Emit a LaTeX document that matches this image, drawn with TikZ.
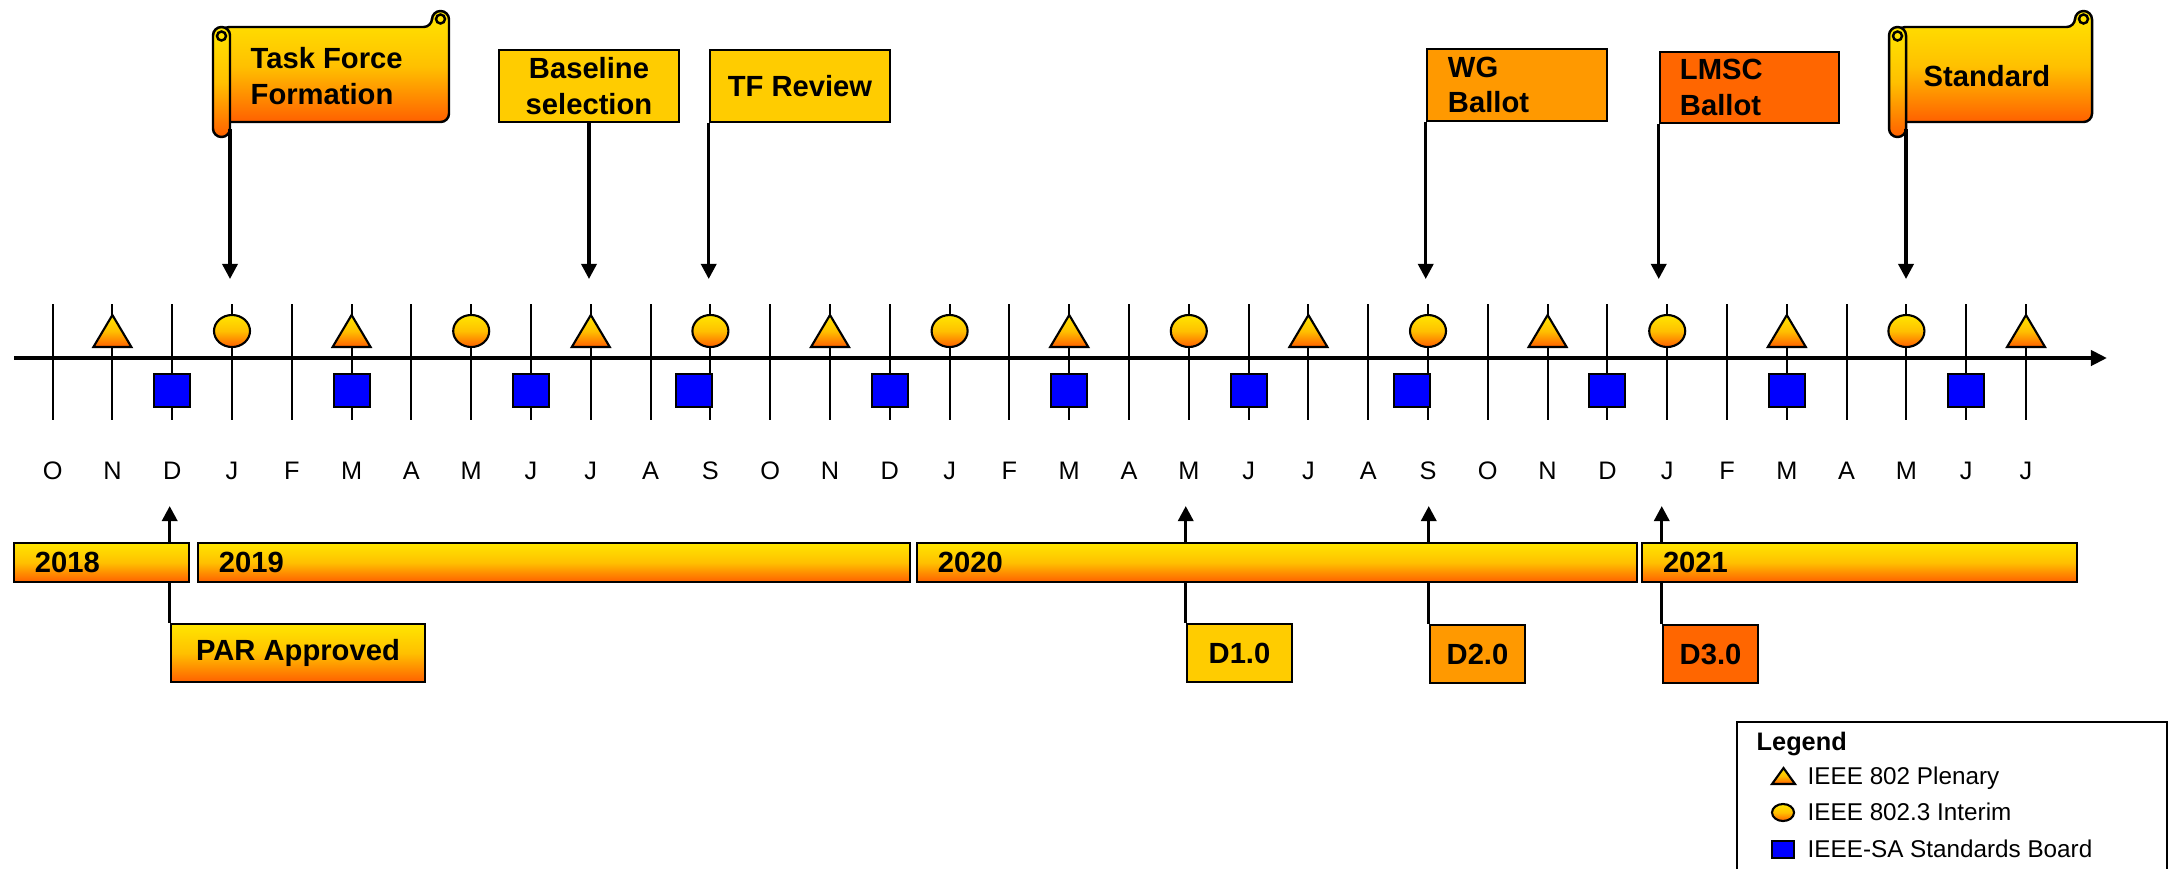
\documentclass[tikz,border=0pt]{standalone}
\usepackage{fontspec}
\setmainfont{Liberation Sans}
\usetikzlibrary{arrows.meta}
\definecolor{flaggold}{RGB}{255,204,0}
\definecolor{flagorange}{RGB}{255,153,0}
\definecolor{flagred}{RGB}{255,102,0}
\definecolor{sabblue}{RGB}{0,0,255}
\definecolor{shadetop}{RGB}{255,230,0}
\definecolor{shademid}{RGB}{255,192,0}
\definecolor{shadebot}{RGB}{255,96,0}

\begin{document}
\begin{tikzpicture}[x=0.01cm, y=-0.01cm,
    >={Triangle[length=4.3pt,width=4.3pt]},
    grad/.style={top color=shadetop, bottom color=shadebot, middle color=shademid},
    lab/.style={font=\fontsize{8.3}{10}\selectfont\bfseries},
    flagbox/.style={draw, line width=0.7pt, inner sep=0pt, lab, minimum height=0.72cm},
    yearbar/.style={draw, line width=0.55pt, grad, lab, minimum height=0.39cm,
        inner xsep=0.21cm, inner ysep=0pt, anchor=west, align=left},
    pole/.style={line width=0.95pt, ->},
    tickline/.style={line width=0.55pt},
    axisline/.style={line width=1.15pt, -{Triangle[length=4.6pt,width=4.3pt]}},
    meet/.style={draw, line width=0.6pt, grad},
    board/.style={draw, line width=0.6pt, fill=sabblue},
    month/.style={font=\fontsize{7.2}{8}\selectfont, anchor=base, inner sep=0pt},
    legtext/.style={font=\fontsize{6.9}{8}\selectfont, anchor=base west, inner sep=0pt}]

    % Rahmen
    \useasboundingbox (0,0) rectangle (2170,869);

    % Monate, Striche
    \foreach \m [count=\i from 0] in {O,N,D,J,F,M,A,M,J,J,A,S,O,N,D,J,F,M,A,M,J,J,A,S,O,N,D,J,F,M,A,M,J,J} {
        \pgfmathsetmacro\x{52.6+59.8*\i}
        \draw[tickline] (\x,304) -- (\x,420);
        \node[month] (mon\i) at (\x,479) {\m};
        \coordinate (hit\i) at (\x,279);
        \coordinate (lo\i) at (\x,506);
    }

    % Zeitachse
    \coordinate (axL) at (14,358);
    \coordinate (axR) at (2107,358);
    \draw[axisline] (axL) -- (axR);

    % Plenary (Dreiecke)
    \foreach \i in {1,5,...,33} {
        \pgfmathsetmacro\x{52.6+59.8*\i}
        \draw[meet] (\x-19,347) -- (\x,315) -- (\x+19,347) -- cycle;
    }
    % Interim (Kreise)
    \foreach \i in {3,7,...,31} {
        \pgfmathsetmacro\x{52.6+59.8*\i}
        \draw[meet] (\x,331) ellipse [x radius=0.18cm, y radius=0.16cm];
    }
    % Standards Board (Quadrate)
    \foreach \i/\dx in {2/0,5/0,8/0,11/-16,14/0,17/0,20/0,23/-16,26/0,29/0,32/0} {
        \pgfmathsetmacro\x{52.6+59.8*\i+\dx}
        \draw[board] (\x-18,374) rectangle (\x+18,407);
    }

    % Schriftrolle: links, rechts, Name
    \def\scrollflag#1#2#3{
        \draw[grad, line width=0.7pt, rounded corners=2.4pt]
            (#1+8,27) -- (#2-17,27) -- (#2-17,11) -- (#2,11) -- (#2,122) -- (#1+8,122) -- cycle;
        \draw[line width=0.7pt] (#2-8.5,19) circle [radius=0.045cm];
        \draw[grad, line width=0.7pt, rounded corners=2.4pt] (#1,27) rectangle (#1+17,137);
        \draw[line width=0.7pt] (#1+8.5,36) circle [radius=0.045cm];
        \coordinate (#3) at (#1+17,129);
    }

    % Meilensteine oben
    \scrollflag{213}{449}{tffpole}
    \node[lab, align=left, anchor=west, inner sep=0pt] (tff) at (250,76) {Task Force\\Formation};
    \node[flagbox, fill=flaggold, minimum width=1.8cm, align=center] (base) at (589,86) {Baseline\\selection};
    \node[flagbox, fill=flaggold, minimum width=1.8cm, align=center] (tfrev) at (800,86) {TF Review};
    \node[flagbox, fill=flagorange, text width=1.38cm, inner xsep=0.21cm, align=left] (wgb) at (1517,85) {WG\\Ballot};
    \node[flagbox, fill=flagred, text width=1.39cm, inner xsep=0.2cm, minimum height=0.71cm, align=left] (lmsc) at (1749.5,87.5) {LMSC\\Ballot};
    \scrollflag{1889}{2092}{stdpole}
    \node[lab, anchor=west, inner sep=0pt] (std) at (1923,76.5) {Standard};

    \draw[pole] (tffpole) -- (tffpole |- hit3);
    \draw[pole] (base.south) -- (base.south |- hit9);
    \draw[pole] (tfrev.south west) -- (tfrev.south west |- hit11);
    \draw[pole] (wgb.south west) -- (wgb.south west |- hit23);
    \draw[pole] (lmsc.south west) -- (lmsc.south west |- hit27);
    \draw[pole] (stdpole) -- (stdpole |- hit31);

    % Meilensteine unten
    \node[flagbox, grad, minimum width=2.54cm, minimum height=0.58cm] (par) at (298,653) {PAR Approved};
    \node[flagbox, fill=flaggold, minimum width=1.05cm, minimum height=0.58cm] (done) at (1239.5,653) {D1.0};
    \node[flagbox, fill=flagorange, minimum width=0.95cm, minimum height=0.58cm] (dtwo) at (1477.5,654) {D2.0};
    \node[flagbox, fill=flagred, minimum width=0.95cm, minimum height=0.58cm] (dthree) at (1710.5,654) {D3.0};

    \draw[pole] (par.north west) -- (par.north west |- lo2);
    \draw[pole] (done.north west) -- (done.north west |- lo19);
    \draw[pole] (dtwo.north west) -- (dtwo.north west |- lo23);
    \draw[pole] (dthree.north west) -- (dthree.north west |- lo27);

    % Jahre
    \node[yearbar, text width=1.33cm] (yr18) at (13,562.5) {2018};
    \node[yearbar, text width=6.70cm] (yr19) at (197,562.5) {2019};
    \node[yearbar, text width=6.78cm] (yr20) at (916,562.5) {2020};
    \node[yearbar, text width=3.93cm] (yr21) at (1641,562.5) {2021};

    % Legende
    \draw[line width=0.6pt] (1737,869) -- (1737,722) -- (2167,722) -- (2167,869);
    \node[legtext, font=\fontsize{7.2}{8}\selectfont\bfseries] (leghead) at (1756,750) {Legend};
    \draw[meet] (1772,784) -- (1783.5,768) -- (1795,784) -- cycle;
    \node[legtext] (legplen) at (1807,784) {IEEE 802 Plenary};
    \draw[meet] (1783,812.5) ellipse [x radius=0.11cm, y radius=0.085cm];
    \node[legtext] (legint) at (1807,820) {IEEE 802.3 Interim};
    \draw[board] (1772,841) rectangle (1794,858);
    \node[legtext] (legsab) at (1807,857) {IEEE-SA Standards Board};

\end{tikzpicture}
\end{document}
